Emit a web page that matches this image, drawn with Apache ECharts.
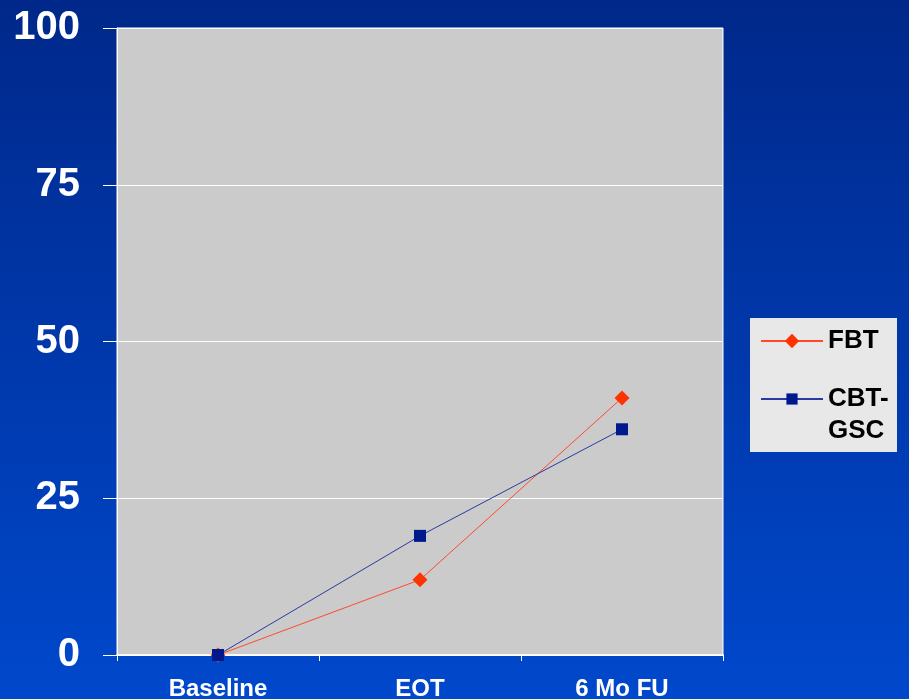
<!DOCTYPE html>
<html>
<head>
<meta charset="utf-8">
<script src="https://cdn.jsdelivr.net/npm/echarts@6/dist/echarts.min.js"></script>
<style>
  html, body { margin: 0; padding: 0; }
  #chart { width: 909px; height: 699px; }
</style>
</head>
<body>
<div id="chart"></div>
<script>
// Time points and outcome percentages per treatment arm
const categories = ['Baseline', 'EOT', '6 Mo FU'];
const fbtValues = [0, 12, 41];
const cbtValues = [0, 19, 36];
const seriesNames = ['FBT', 'CBT-GSC'];

const FONT = 'Arial, "Liberation Sans", sans-serif';

const chart = echarts.init(document.getElementById('chart'));

chart.setOption({
  animation: false,
  backgroundColor: {
    type: 'linear', x: 0, y: 0, x2: 0, y2: 1,
    colorStops: [
      { offset: 0, color: '#00288a' },
      { offset: 1, color: '#0048cc' }
    ]
  },
  graphic: [{
    type: 'rect',
    shape: { x: 750, y: 318, width: 147, height: 134 },
    style: { fill: '#e8e8e8' },
    z: 0
  }],
  legend: [
    {
      data: [seriesNames[0]],
      left: 755, top: 320,
      padding: 5,
      itemWidth: 62, itemHeight: 18,
      textStyle: { color: '#000', fontSize: 26, fontWeight: 'bold', fontFamily: FONT, lineHeight: 32 }
    },
    {
      data: [seriesNames[1]],
      left: 755, top: 346,
      padding: 5,
      itemWidth: 62, itemHeight: 14,
      // leading blank line keeps "CBT-" level with the icon, "GSC" wraps below
      formatter: () => ' \nCBT-\nGSC',
      textStyle: { color: '#000', fontSize: 26, fontWeight: 'bold', fontFamily: FONT, lineHeight: 32 }
    }
  ],
  grid: {
    left: 117, top: 28, right: 186, bottom: 44,
    outerBoundsMode: 'none',
    show: true,
    backgroundColor: '#cbcbcb',
    borderColor: '#ffffff',
    borderWidth: 1
  },
  xAxis: {
    type: 'category',
    data: categories,
    boundaryGap: true,
    axisLine: { lineStyle: { color: '#ffffff', width: 1.5 } },
    axisTick: { show: true, length: 6, lineStyle: { color: '#ffffff' } },
    axisLabel: { color: '#ffffff', fontSize: 24, fontWeight: 'bold', fontFamily: FONT, margin: 22 }
  },
  yAxis: {
    type: 'value',
    min: 0, max: 100, interval: 25,
    axisLine: { show: true, lineStyle: { color: '#ffffff', width: 1 } },
    axisTick: { show: true, length: 14, lineStyle: { color: '#ffffff' } },
    splitLine: { lineStyle: { color: '#ffffff', width: 1 } },
    axisLabel: { color: '#ffffff', fontSize: 40, fontWeight: 'bold', fontFamily: FONT, margin: 37 }
  },
  series: [
    {
      name: seriesNames[0],
      type: 'line',
      data: fbtValues,
      symbol: 'diamond',
      symbolSize: 15,
      z: 2,
      itemStyle: { color: '#ff3300' },
      lineStyle: { color: '#ff4a2a', width: 1 }
    },
    {
      name: seriesNames[1],
      type: 'line',
      data: cbtValues,
      symbol: 'rect',
      symbolSize: 12,
      z: 3,
      itemStyle: { color: '#001a8e' },
      lineStyle: { color: '#2a3aa0', width: 1 }
    }
  ]
});
</script>
</body>
</html>
